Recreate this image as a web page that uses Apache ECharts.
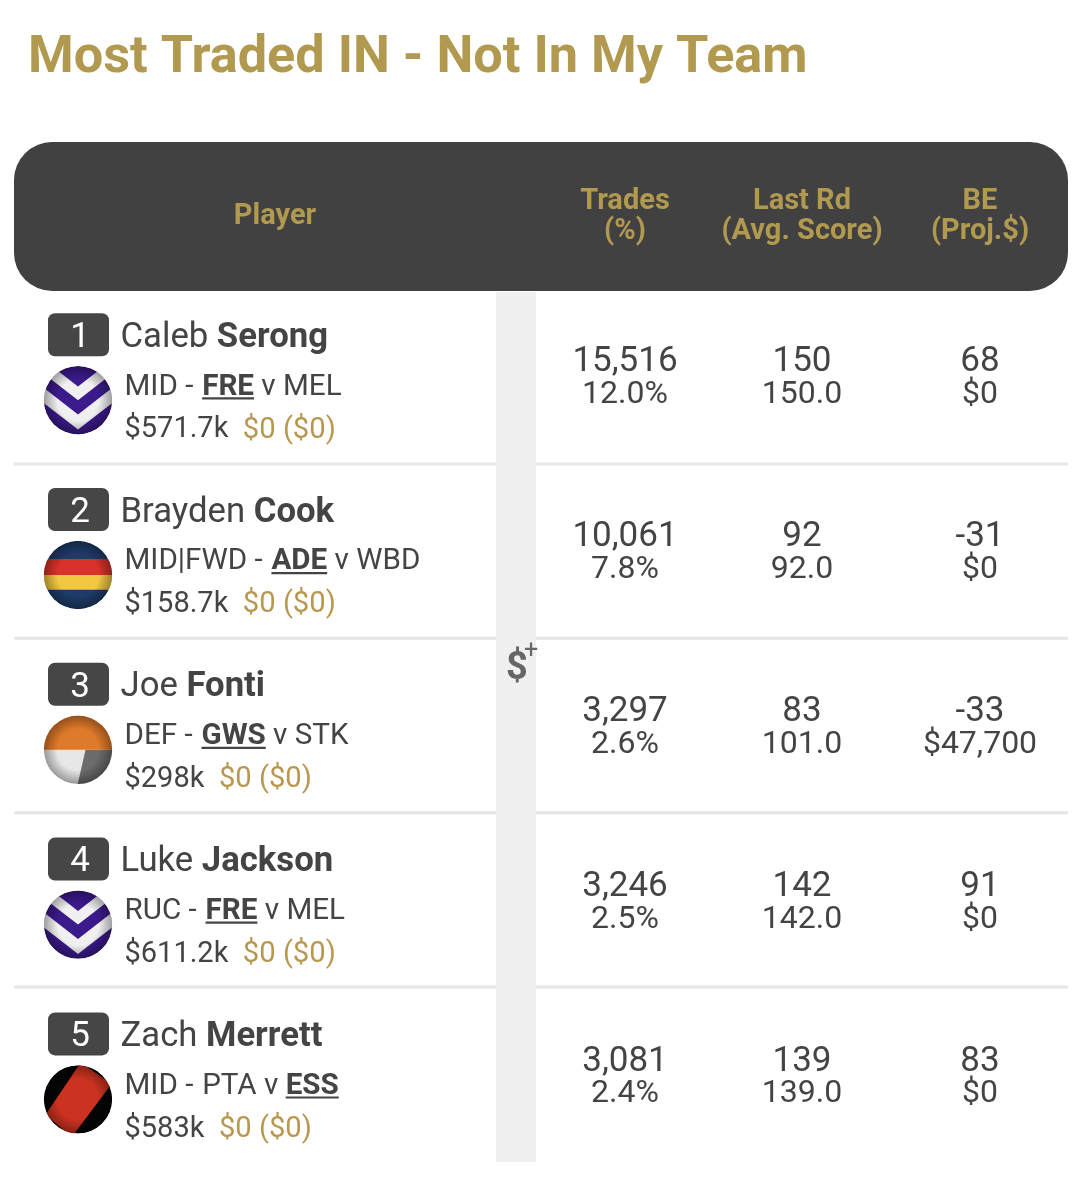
<!DOCTYPE html>
<html><head><meta charset="utf-8">
<style>html,body{margin:0;padding:0;background:#fff}#c{width:1078px;height:1200px}</style>
<script src="https://cdn.jsdelivr.net/npm/echarts@6/dist/echarts.min.js"></script>
</head><body><div id="c"></div>
<script>
const titleText = 'Most Traded IN - Not In My Team';
const ranks = ['1','2','3','4','5'];
const firstNames = ['Caleb','Brayden','Joe','Luke','Zach'];
const lastNames = ['Serong','Cook','Fonti','Jackson','Merrett'];
const positions = ['MID','MID|FWD','DEF','RUC','MID'];
const homeTeams = ['FRE','ADE','GWS','FRE','PTA'];
const awayTeams = ['MEL','WBD','STK','MEL','ESS'];
const playerTeams = ['FRE','ADE','GWS','FRE','ESS'];
const prices = ['$571.7k','$158.7k','$298k','$611.2k','$583k'];
const priceChanges = ['$0 ($0)','$0 ($0)','$0 ($0)','$0 ($0)','$0 ($0)'];
const trades = ['15,516','10,061','3,297','3,246','3,081'];
const tradePct = ['12.0%','7.8%','2.6%','2.5%','2.4%'];
const lastRound = ['150','92','83','142','139'];
const avgScore = ['150.0','92.0','101.0','142.0','139.0'];
const breakEven = ['68','-31','-33','91','83'];
const projPrice = ['$0','$0','$47,700','$0','$0'];

const GOLD='#b19a50', GOLD2='#b8984e', DARK='#414141', TXT='#444444', FF='Roboto, sans-serif';
const ctx=document.createElement('canvas').getContext('2d');
function w(t,font){ctx.font=font;return ctx.measureText(t).width;}
function txt(t,x,y,font,fill,align){
  return {type:'text',style:{text:t,x:x,y:y,font:font,fill:fill,textAlign:align||'left',textVerticalAlign:'middle'}};
}
function shade(r){return {type:'circle',shape:{cx:0,cy:0,r:r},style:{fill:{type:'radial',x:.5,y:.5,r:.5,colorStops:[{offset:0,color:'rgba(0,0,0,0)'},{offset:.6,color:'rgba(0,0,0,0)'},{offset:1,color:'rgba(0,0,0,0.34)'}]}}};}
function poly(pts,fill,k){return {type:'polygon',shape:{points:pts.map(p=>[p[0]*k,p[1]*k])},style:{fill:fill}};}
function logo(team,cx,cy){
  const r=34.2,k=r/100; let ch=[];
  if(team==='FRE'){
    const chev=(a,b)=>[[-130,a-101],[0,a],[130,a-101],[130,b-101],[0,b],[-130,b-101]];
    ch=[{type:'circle',shape:{cx:0,cy:0,r:r},style:{fill:'#3b1a8c'}},poly(chev(-40,0),'#f0f0f0',k),poly(chev(42,86),'#f0f0f0',k)];
  }else if(team==='ADE'){
    ch=[{type:'circle',shape:{cx:0,cy:0,r:r},style:{fill:'#1d3c68'}},
      {type:'rect',shape:{x:-r,y:-47*k,width:2*r,height:47*k},style:{fill:'#d8322a'}},
      {type:'rect',shape:{x:-r,y:0,width:2*r,height:43*k},style:{fill:'#f2c843'}}];
  }else if(team==='GWS'){
    ch=[{type:'circle',shape:{cx:0,cy:0,r:r},style:{fill:'#e7e7e7'}},
      poly([[22,0],[110,0],[110,110],[-3,110]],'#6c6c6c',k),
      {type:'rect',shape:{x:-r,y:-r,width:2*r,height:r},style:{fill:'#df7a2a'}}];
  }else{
    ch=[{type:'circle',shape:{cx:0,cy:0,r:r},style:{fill:'#050505'}},
      poly([[8,-108],[98,-45],[-18,110],[-95,45]],'#cb3220',k)];
  }
  ch.push(shade(r));
  return {type:'group',x:cx,y:cy,clipPath:{type:'circle',shape:{cx:0,cy:0,r:r}},children:ch};
}
function renderRow(params,api){
  const i=api.value(0);
  const colX=[625,802,980];
  const at=(x)=>api.coord([x,i]);
  const cy0=at(0)[1];
  const kids=[];
  const rg=api.size([0,1])[1], bottom=cy0+rg/2;
  const cy=cy0+i*0.4;
  if(i<4){
    kids.push({type:'rect',shape:{x:at(14)[0],y:bottom-2,width:482,height:3},style:{fill:'#e6e6e6'}});
    kids.push({type:'rect',shape:{x:at(536)[0],y:bottom-2,width:532,height:3},style:{fill:'#e6e6e6'}});
  }
  kids.push({type:'rect',shape:{x:at(48)[0],y:cy-64,width:61,height:43,r:7},style:{fill:'#464646'}});
  kids.push(txt(ranks[i],at(80)[0],cy-39,'400 35px '+FF,'#fff','center'));
  const nf='400 34.7px '+FF, nb='700 34.7px '+FF;
  const nx=120.5, first=firstNames[i]+' ';
  kids.push(txt(first,at(nx)[0],cy-39,nf,TXT));
  kids.push(txt(lastNames[i],at(nx+w(first,nf))[0],cy-39,nb,TXT));
  kids.push(logo(playerTeams[i],at(78)[0],cy+23));
  const lf='400 29.6px '+FF, lb='700 29.6px '+FF; let x=124.5;
  const ly=cy+10;
  const run=(t,under)=>{
    const f=under?lb:lf; kids.push(txt(t,at(x)[0],ly,f,TXT));
    const wd=w(t,f);
    if(under) kids.push({type:'rect',shape:{x:at(x)[0],y:cy+20,width:wd,height:2.2},style:{fill:TXT}});
    x+=wd;
  };
  const pt=playerTeams[i];
  run(positions[i]+' - ',false);
  x+=1.5;
  run(homeTeams[i],homeTeams[i]===pt);
  run(' v ',false);
  run(awayTeams[i],awayTeams[i]===pt);
  const py=cy+53;
  const pf='400 29px '+FF;
  kids.push(txt(prices[i],at(124.5)[0],py,pf,TXT));
  kids.push(txt(priceChanges[i],at(124.5+w(prices[i],pf)+14.5)[0],py,'400 29.2px '+FF,GOLD2));
  const tf='400 35px '+FF, vf='400 32px '+FF;
  [[trades,tradePct],[lastRound,avgScore],[breakEven,projPrice]].forEach((p,j)=>{
    kids.push(txt(p[0][i],at(colX[j])[0],cy-14.5,tf,TXT,'center'));
    kids.push(txt(p[1][i],at(colX[j])[0],cy+18,vf,TXT,'center'));
  });
  return {type:'group',children:kids};
}
const hf='700 29px '+FF;
const headerCols=[[275,217,'Player'],[625,202,'Trades'],[625,232,'(%)'],[802,202,'Last Rd'],[802,232,'(Avg. Score)'],[980,202,'BE'],[980,232,'(Proj.$)']];
const chart=echarts.init(document.getElementById('c'),null,{renderer:'canvas'});
chart.setOption({
  animation:false,backgroundColor:'#ffffff',
  grid:{left:0,top:290,width:1078,height:872},
  xAxis:{type:'value',min:0,max:1078,show:false},
  yAxis:{type:'category',inverse:true,data:ranks,show:false},
  graphic:[
    {type:'text',z:5,x:28,y:59,scaleX:1.005,style:{text:titleText,x:0,y:0,font:'700 52px '+FF,fill:GOLD,textVerticalAlign:'middle'}},
    {type:'rect',z:1,shape:{x:14,y:142,width:1054,height:149,r:38},style:{fill:DARK}},
    {type:'rect',z:1,shape:{x:496,y:292,width:40,height:870},style:{fill:'#f0f0f0'}},
    {type:'text',z:5,x:517,y:669,style:{text:'$',x:0,y:0,font:'700 38px '+FF,fill:'#666',textAlign:'center',textVerticalAlign:'middle'}},
    {type:'text',z:5,x:531,y:652,style:{text:'+',x:0,y:0,font:'400 25px '+FF,fill:'#666',textAlign:'center',textVerticalAlign:'middle'}}
  ].concat(headerCols.map(h=>({type:'text',z:5,x:h[0],y:h[1],scaleX:1.0,style:{text:h[2],x:0,y:0,font:hf,fill:GOLD,textAlign:'center',textVerticalAlign:'middle'}}))),
  series:[{type:'custom',coordinateSystem:'cartesian2d',clip:false,z:3,silent:true,
    renderItem:renderRow,encode:{x:1,y:0},
    data:ranks.map((r,i)=>[i,0])}]
});
</script></body></html>
